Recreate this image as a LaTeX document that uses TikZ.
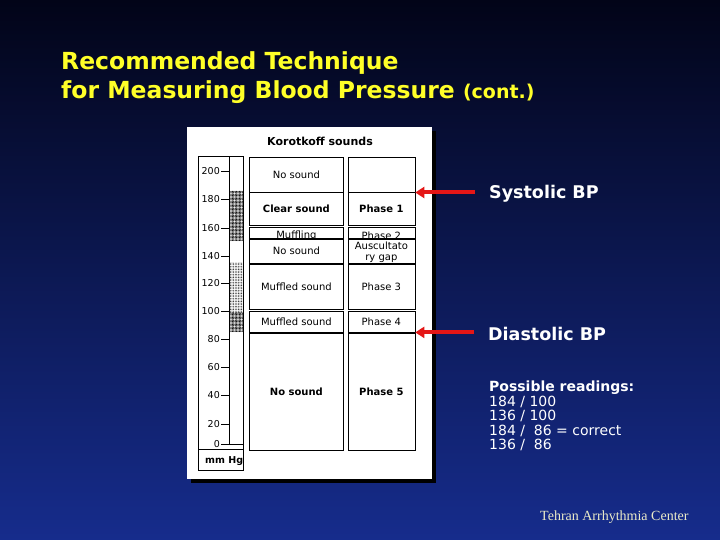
\documentclass[tikz,border=0pt]{standalone}
\usepackage{fontspec}
\setmainfont{DejaVu Sans}
\newfontfamily\footserif{Liberation Serif}
\usetikzlibrary{arrows.meta,patterns.meta}

\definecolor{titleyellow}{RGB}{255,255,40}
\definecolor{arrowred}{RGB}{228,22,22}
\definecolor{footcream}{RGB}{235,235,200}
\definecolor{bgtop}{RGB}{2,4,24}
\definecolor{bgmid}{RGB}{12,30,105}
\definecolor{bgbot}{RGB}{22,44,140}

\tikzset{
  cell/.style={draw, line width=0.8pt, inner sep=0pt, anchor=north west,
    align=center, font=\fontsize{10}{10.5}\selectfont},
  boldcell/.style={cell, font=\fontsize{10}{10.5}\selectfont\bfseries},
  celltext/.style={inner sep=0pt, font=\fontsize{10}{10.5}\selectfont},
  ticklab/.style={anchor=east, inner sep=0pt, font=\fontsize{9.5}{10}\selectfont},
  bparrow/.style={arrowred, line width=4pt, -{Triangle[length=9pt,width=11pt]},
    shorten <=14pt},
  bplabel/.style={anchor=west, inner sep=0pt, text=white,
    font=\fontsize{17.5}{20}\selectfont\bfseries},
}

\begin{document}
\begin{tikzpicture}[x=1pt, y=-1pt]
  % Slide background
  \shade[top color=bgtop, middle color=bgmid, bottom color=bgbot]
    (0,0) rectangle (720,540);
  \useasboundingbox (0,0) rectangle (720,540);

  % Title
  \node[anchor=base west, inner sep=0pt, text=titleyellow,
    font=\fontsize{23.5}{28}\selectfont\bfseries] (title1) at (61,70)
    {Recommended Technique};
  \node[anchor=base west, inner sep=0pt, text=titleyellow,
    font=\fontsize{23.5}{28}\selectfont\bfseries] (title2) at (61,99)
    {for Measuring Blood Pressure {\fontsize{19}{20}\selectfont (cont.)}};

  % White panel with its shadow
  \fill[black] (191,130.7) rectangle (435.6,482.6);
  \fill[white] (187,126.7) rectangle (431.6,478.6);
  \node[inner sep=0pt, font=\fontsize{11}{12}\selectfont\bfseries] (head) at (320,141)
    {Korotkoff sounds};

  % mm Hg scale
  \fill[pattern={Dots[distance=1.4pt, radius=0.62pt]}] (229.6,191) rectangle (243,241);
  \fill[pattern={Dots[distance=1.6pt, radius=0.45pt]}] (229.6,262) rectangle (243,312);
  \fill[pattern={Dots[distance=1.4pt, radius=0.62pt]}] (229.6,312) rectangle (243,332);
  \draw[line width=0.8pt] (198,156.7) rectangle (243,470);
  \draw[line width=0.8pt] (229.6,156.7) -- (229.6,444) -- (243,444);
  \draw[line width=0.8pt] (198,449) -- (243,449);
  \foreach \v/\y in {200/171,180/199,160/228,140/256,120/283,100/311,80/339,60/367,40/395,20/424} {
    \node[ticklab] (tick\v) at (220,\y) {\v};
    \draw[line width=0.8pt] (221,\y) -- (229.6,\y);
  }
  \node[ticklab] (tick0) at (220,444) {0};
  \draw[line width=0.8pt] (221,444) -- (229.6,444);
  \node[anchor=west, inner sep=0pt, font=\fontsize{9.5}{10}\selectfont\bfseries] (unit)
    at (205,461.5) {mm Hg};

  % Sounds and phases
  \node[cell, minimum width=94, minimum height=35] (r1a) at (249,156.7) {No sound};
  \node[cell, minimum width=67, minimum height=35] (r1b) at (347.5,156.7) {};
  \node[boldcell, minimum width=94, minimum height=33.8] (r2a) at (249,191.7) {Clear sound};
  \node[boldcell, minimum width=67, minimum height=33.8] (r2b) at (347.5,191.7) {Phase 1};
  \draw[line width=1.8pt] (r1a.south west) -- (r1a.south east);
  \draw[line width=1.8pt] (r1b.south west) -- (r1b.south east);
  \node[cell, minimum width=94, minimum height=10.6] (r3a) at (249,227) {};
  \node[cell, minimum width=67, minimum height=10.6] (r3b) at (347.5,227) {};
  \begin{scope}
    \clip (r3a.north west) rectangle (r3b.south east);
    \node[celltext] (muff) at ([yshift=-3pt]r3a.center) {Muffling};
    \node[celltext] (ph2) at ([yshift=-3pt]r3b.center) {Phase 2};
  \end{scope}
  \node[cell, minimum width=94, minimum height=23.7] (r4a) at (249,239) {No sound};
  \node[cell, minimum width=67, minimum height=23.7] (r4b) at (347.5,239) {};
  \begin{scope}
    \clip (r4b.north west) rectangle (r4b.south east);
    \node[celltext, align=center] (gap) at ([yshift=-1pt]r4b.center) {Auscultato\\ry gap};
  \end{scope}
  \node[cell, minimum width=94, minimum height=45] (r5a) at (249,264) {Muffled sound};
  \node[cell, minimum width=67, minimum height=45] (r5b) at (347.5,264) {Phase 3};
  \node[cell, minimum width=94, minimum height=20.6] (r6a) at (249,311) {Muffled sound};
  \node[cell, minimum width=67, minimum height=20.6] (r6b) at (347.5,311) {Phase 4};
  \node[boldcell, minimum width=94, minimum height=117] (r7a) at (249,333) {No sound};
  \node[boldcell, minimum width=67, minimum height=117] (r7b) at (347.5,333) {Phase 5};

  % Blood pressure marks
  \node[bplabel] (sys) at (489,193.5) {Systolic BP};
  \node[bplabel] (dia) at (488,333.5) {Diastolic BP};
  \draw[bparrow] (sys.west |- r1b.south east) -- (r1b.south east);
  \draw[bparrow] (dia.west |- r6b.south east) -- (r6b.south east);

  % Readings
  \node[anchor=base west, inner sep=0pt, text=white,
    font=\fontsize{14}{16}\selectfont\bfseries] (poss) at (489,391.5) {Possible readings:};
  \node[anchor=north west, inner sep=0pt, text=white, align=left,
    font=\fontsize{14}{14.3}\selectfont] (read) at (489,396)
    {184 / 100\\136 / 100\\184 /\ \ 86 = correct\\136 /\ \ 86};

  % Footer
  \node[anchor=base west, inner sep=0pt, text=footcream,
    font=\footserif\fontsize{14}{16}\selectfont] (foot) at (540,520)
    {Tehran Arrhythmia Center};
\end{tikzpicture}
\end{document}
